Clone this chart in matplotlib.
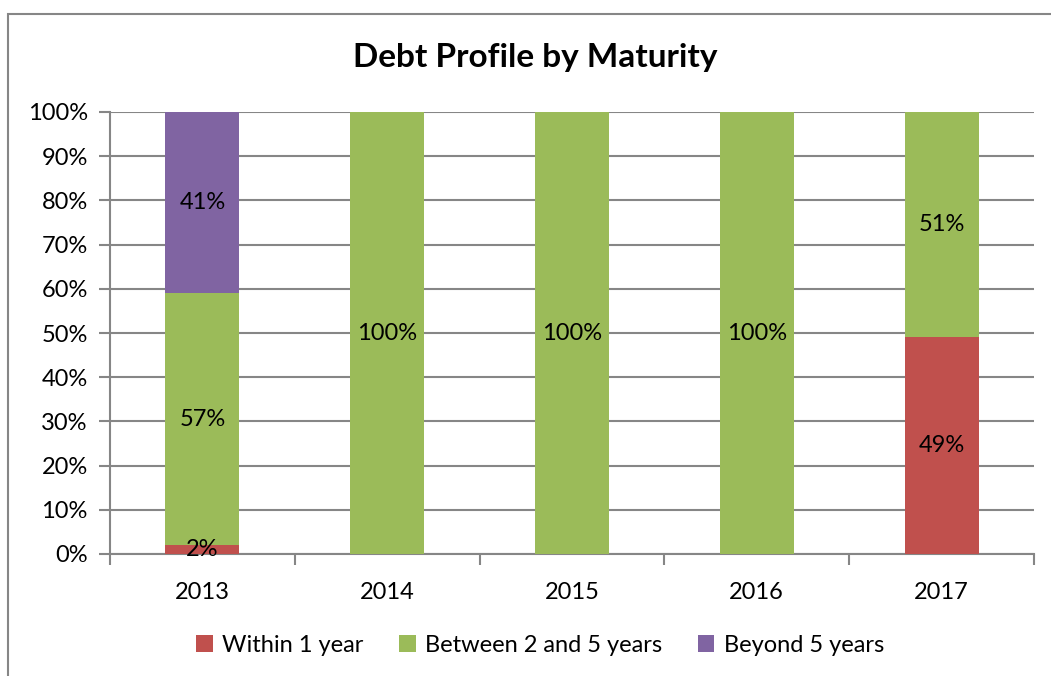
import matplotlib
matplotlib.use("Agg")
import matplotlib.pyplot as plt
import numpy as np

years = ["2013", "2014", "2015", "2016", "2017"]
within_1 = [2, 0, 0, 0, 49]
between_2_5 = [57, 100, 100, 100, 51]
beyond_5 = [41, 0, 0, 0, 0]

series = [
    ("Within 1 year", within_1, "#C0504D"),
    ("Between 2 and 5 years", between_2_5, "#9BBB59"),
    ("Beyond 5 years", beyond_5, "#8064A2"),
]

plt.rcParams['font.family'] = ['Lato', 'DejaVu Sans']

fig = plt.figure(figsize=(10.51, 6.76), dpi=100)
W, H = 1051, 676
ax = fig.add_axes([110 / W, 1 - 554 / H, (1034 - 110) / W, (554 - 112) / H])

# outer chart border (left/top visible)
fig.patches.append(plt.Rectangle((8 / W, -0.1), 1.2, 1 - 14 / H + 0.1,
                                 transform=fig.transFigure, fill=False,
                                 edgecolor="#868686", linewidth=1.5))

x = np.arange(len(years))
bottom = np.zeros(len(years))
for name, vals, color in series:
    vals = np.array(vals, dtype=float)
    ax.bar(x, vals, width=0.4, bottom=bottom, color=color, label=name, zorder=3)
    for xi, b, v in zip(x, bottom, vals):
        if v > 0:
            ax.text(xi, b + v / 2, f"{int(v)}%", ha="center", va="center",
                    fontsize=17, color="black", zorder=4)
    bottom += vals

ax.set_xlim(-0.5, len(years) - 0.5)
ax.set_ylim(0, 100)
ax.set_yticks(np.arange(0, 101, 10))
ax.set_yticklabels([f"{v}%" for v in range(0, 101, 10)], fontsize=17)
ax.set_xticks(x)
ax.set_xticklabels(years, fontsize=17)
ax.set_xticks(np.arange(-0.5, len(years)), minor=True)
ax.tick_params(axis="x", which="major", length=0, pad=20)
ax.tick_params(axis="x", which="minor", length=8, color="#868686", width=1.5)
ax.tick_params(axis="y", length=8, color="#868686", width=1.5, pad=8)

ax.grid(axis="y", color="#868686", linewidth=1.5, zorder=0)
for s in ["top", "right"]:
    ax.spines[s].set_visible(False)
for s in ["left", "bottom"]:
    ax.spines[s].set_color("#868686")
    ax.spines[s].set_linewidth(1.5)

fig.text(535 / W, 1 - 58 / H, "Debt Profile by Maturity", ha="center", va="center",
         fontsize=24, fontweight="bold")

handles, labels = ax.get_legend_handles_labels()
fig.legend(handles, labels, loc="center", bbox_to_anchor=(540 / W, 1 - 645 / H),
           ncol=3, frameon=False, fontsize=17, handlelength=0.7, handleheight=0.7,
           handletextpad=0.4, columnspacing=1.5)

fig.savefig("out.png", dpi=100)
